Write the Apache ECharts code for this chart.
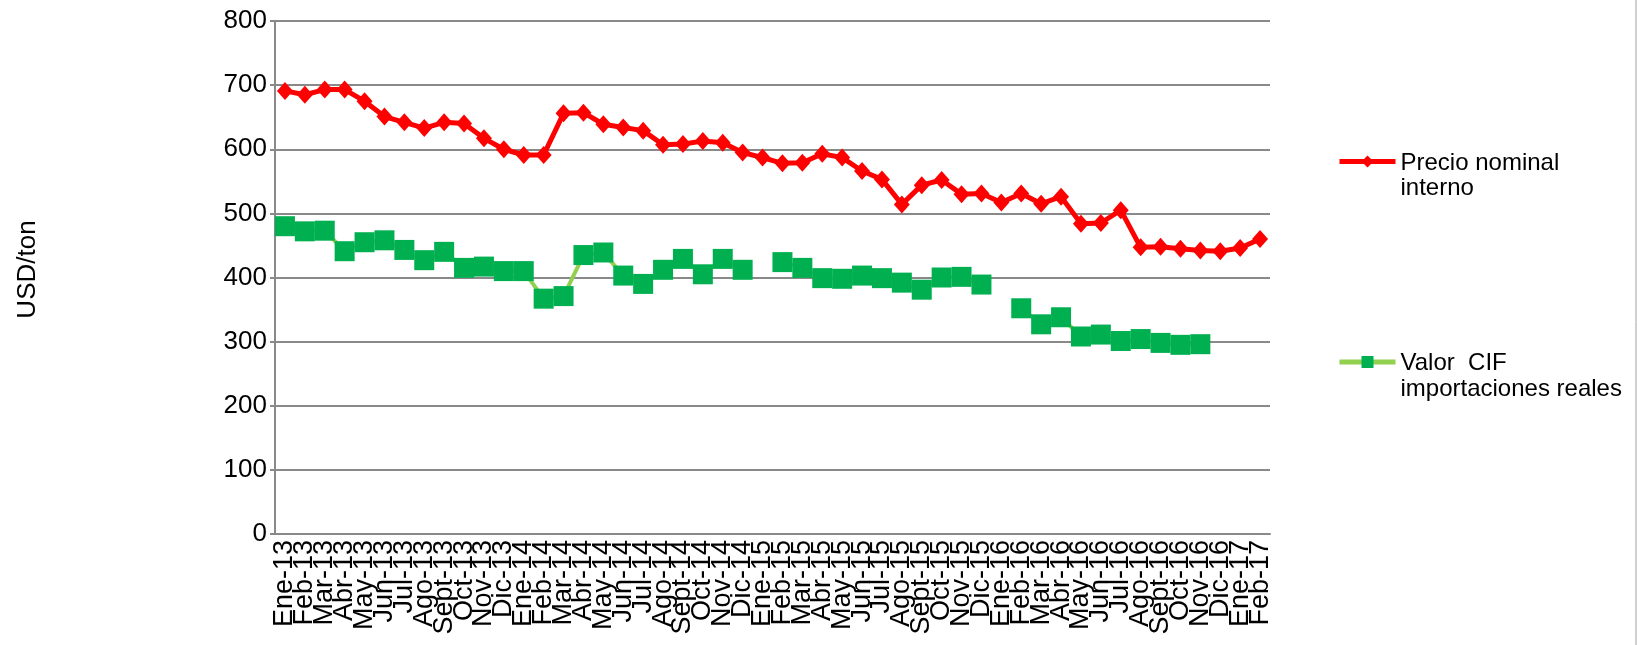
<!DOCTYPE html>
<html>
<head>
<meta charset="utf-8">
<script src="https://cdn.jsdelivr.net/npm/echarts@6/dist/echarts.min.js"></script>
<style>
  html, body { margin: 0; padding: 0; background: #fff; }
  #chart { width: 1637px; height: 645px; }
</style>
</head>
<body>
<div id="chart"></div>
<script>
// meses (categorias del eje X)
var meses = ['Ene-13','Feb-13','Mar-13','Abr-13','May-13','Jun-13','Jul-13','Ago-13','Sept-13','Oct-13','Nov-13','Dic-13',
  'Ene-14','Feb-14','Mar-14','Abr-14','May-14','Jun-14','Jul-14','Ago-14','Sept-14','Oct-14','Nov-14','Dic-14',
  'Ene-15','Feb-15','Mar-15','Abr-15','May-15','Jun-15','Jul-15','Ago-15','Sept-15','Oct-15','Nov-15','Dic-15',
  'Ene-16','Feb-16','Mar-16','Abr-16','May-16','Jun-16','Jul-16','Ago-16','Sept-16','Oct-16','Nov-16','Dic-16',
  'Ene-17','Feb-17'];

var precioNominal = [691,685,693,693,675,651,642,633,642,640,617,600,
  591,591,656,657,639,634,629,607,608,613,610,595,
  587,578,579,593,587,566,553,514,544,552,530,531,
  517,531,515,526,484,485,505,447,448,445,442,441,
  446,460];

var valorCIF = [480,472,473,441,455,458,443,427,440,415,417,410,
  410,367,371,435,439,403,390,412,429,405,429,412,
  null,424,415,399,398,403,399,392,381,400,401,389,
  null,352,327,338,308,311,301,304,298,295,296,null,
  null,null];

var yTicks = { min: 0, max: 800, interval: 100 };

var myChart = echarts.init(document.getElementById('chart'));
var fuente = "'Liberation Sans', Arial, sans-serif";
var gris = '#898989';

var option = {
  backgroundColor: '#fff',
  animation: false,
  textStyle: { fontFamily: fuente },
  grid: { left: 275, right: 367, top: 21, bottom: 111 },
  legend: {
    orient: 'vertical',
    left: 1332,
    top: 146,
    itemGap: 151,
    itemWidth: 56,
    itemHeight: 15,
    lineStyle: { width: 5 },
    formatter: function (name) {
      var p = name.split('\n');
      return '{a|' + p[0] + '}\n{b|' + p[1] + '}';
    },
    textStyle: {
      fontSize: 24, color: '#000', fontFamily: fuente,
      rich: {
        a: { fontSize: 24, lineHeight: 54, verticalAlign: 'bottom', fontFamily: fuente, color: '#000' },
        b: { fontSize: 24, lineHeight: 27, fontFamily: fuente, color: '#000' }
      }
    },
    data: ['Precio nominal\ninterno', 'Valor  CIF\nimportaciones reales']
  },
  xAxis: {
    type: 'category',
    data: meses,
    boundaryGap: true,
    axisLine: { lineStyle: { color: gris, width: 2 } },
    axisTick: { show: false },
    axisLabel: { interval: 0, rotate: 90, fontSize: 27, color: '#000', margin: 6, fontFamily: fuente }
  },
  yAxis: {
    type: 'value',
    min: yTicks.min,
    max: yTicks.max,
    interval: yTicks.interval,
    name: 'USD/ton',
    nameLocation: 'middle',
    nameRotate: 90,
    nameGap: 234,
    nameTextStyle: { fontSize: 26, color: '#000', fontFamily: fuente, padding: [0, 0, 0, 16] },
    axisLine: { show: true, lineStyle: { color: gris, width: 2 } },
    axisTick: { show: true, length: 5, lineStyle: { color: gris, width: 2 } },
    axisLabel: { fontSize: 26, color: '#000', margin: 8, fontFamily: fuente },
    splitLine: { lineStyle: { color: gris, width: 2 } }
  },
  series: [{
    name: 'Precio nominal\ninterno',
    type: 'line',
    data: precioNominal,
    symbol: 'diamond',
    symbolSize: [16, 18],
    lineStyle: { color: '#ff0000', width: 5 },
    itemStyle: { color: '#ff0000' },
    z: 3
  }, {
    name: 'Valor  CIF\nimportaciones reales',
    type: 'line',
    data: valorCIF,
    connectNulls: false,
    symbol: 'rect',
    symbolSize: 20,
    lineStyle: { color: '#92d050', width: 4 },
    itemStyle: { color: '#00b050' },
    z: 2
  }],
  graphic: [{
    type: 'line',
    shape: { x1: 1636, y1: 0, x2: 1636, y2: 645 },
    style: { stroke: '#a0a0a0', lineWidth: 1 }
  }]
};
myChart.setOption(option);
</script>
</body>
</html>
